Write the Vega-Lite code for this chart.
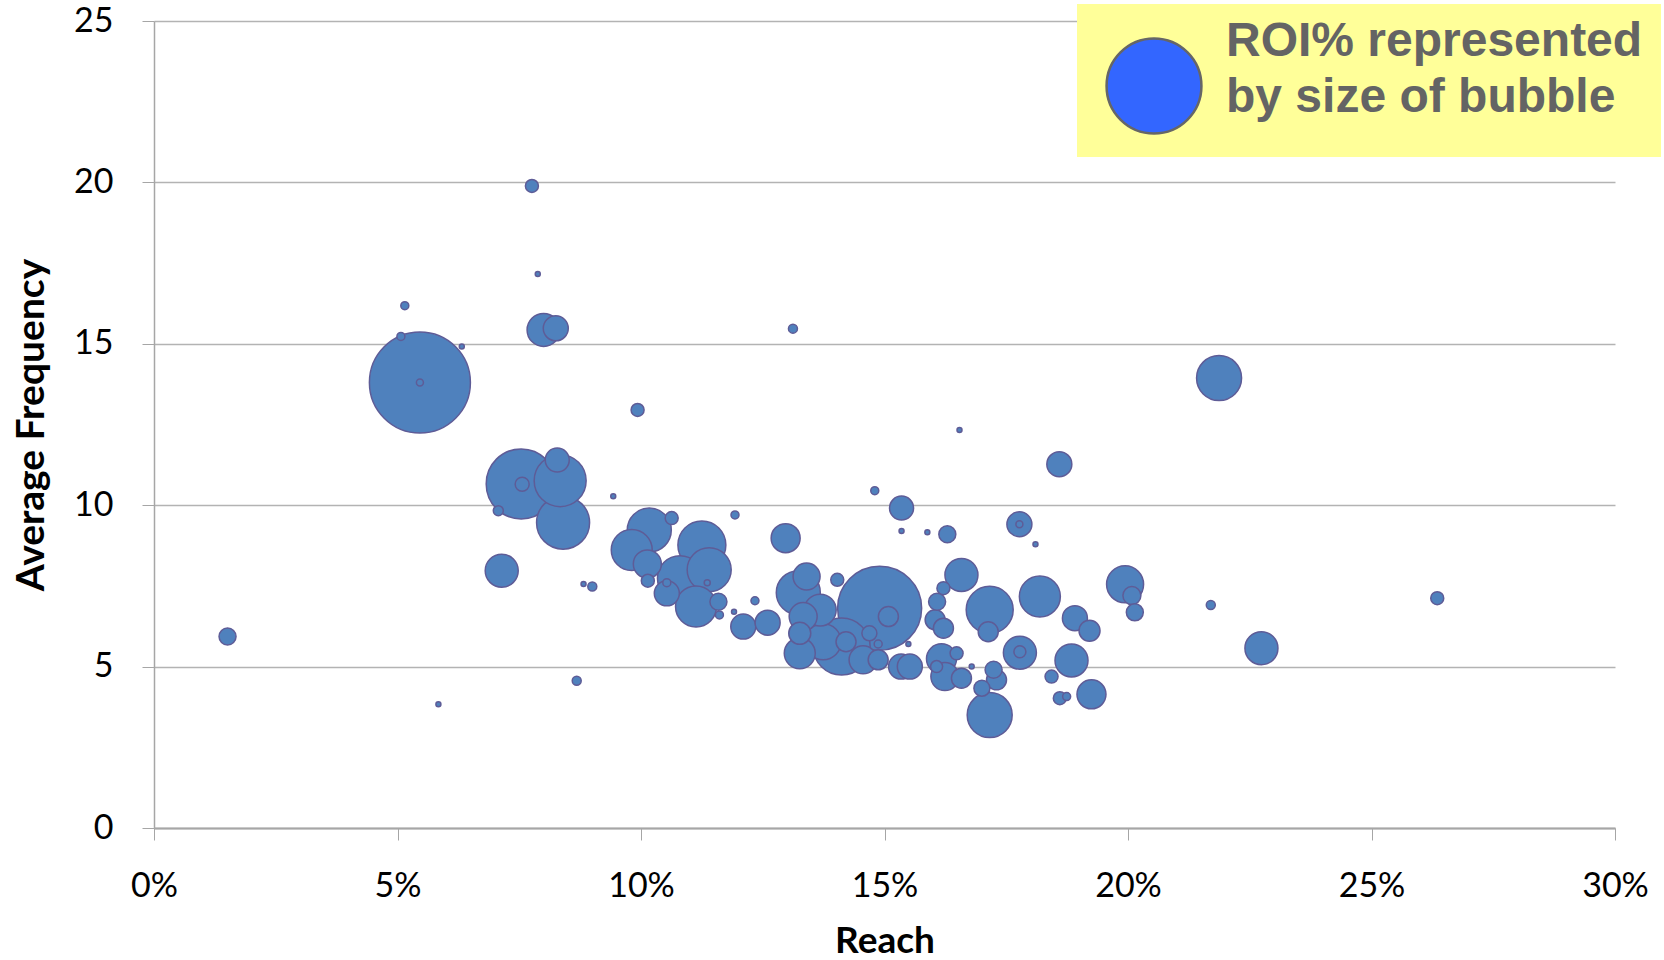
{
  "$schema": "https://vega.github.io/schema/vega-lite/v6.json",
  "width": 1461,
  "height": 807,
  "autosize": {"type": "none"},
  "padding": {"left": 154, "top": 21, "right": 49, "bottom": 132},
  "background": "white",
  "config": {"view": {"stroke": null}, "font": "Lato"},
  "data": {
    "values": [
      {"reach": 0.0546, "freq": 13.80, "roi": 102},
      {"reach": 0.1490, "freq": 6.81, "roi": 70.6},
      {"reach": 0.0754, "freq": 10.66, "roi": 49},
      {"reach": 0.1412, "freq": 5.62, "roi": 32.5},
      {"reach": 0.0840, "freq": 9.46, "roi": 28.1},
      {"reach": 0.0834, "freq": 10.76, "roi": 27},
      {"reach": 0.1125, "freq": 8.77, "roi": 23},
      {"reach": 0.1716, "freq": 6.76, "roi": 22.1},
      {"reach": 0.1080, "freq": 7.74, "roi": 20.25},
      {"reach": 0.1716, "freq": 3.50, "roi": 20.25},
      {"reach": 0.2187, "freq": 13.94, "roi": 20.25},
      {"reach": 0.1140, "freq": 8.00, "roi": 19.4},
      {"reach": 0.1017, "freq": 9.23, "roi": 19.4},
      {"reach": 0.1323, "freq": 7.29, "roi": 19.4},
      {"reach": 0.1113, "freq": 6.86, "roi": 16.8},
      {"reach": 0.0981, "freq": 8.61, "roi": 16.8},
      {"reach": 0.1819, "freq": 7.17, "roi": 16.8},
      {"reach": 0.1994, "freq": 7.55, "roi": 13.7},
      {"reach": 0.1374, "freq": 5.77, "roi": 13.0},
      {"reach": 0.0800, "freq": 15.43, "roi": 10.9},
      {"reach": 0.0714, "freq": 7.97, "roi": 10.9},
      {"reach": 0.1658, "freq": 7.84, "roi": 10.9},
      {"reach": 0.1778, "freq": 5.43, "roi": 10.9},
      {"reach": 0.1884, "freq": 5.19, "roi": 10.9},
      {"reach": 0.2274, "freq": 5.57, "roi": 10.9},
      {"reach": 0.1368, "freq": 6.75, "roi": 10.2},
      {"reach": 0.1326, "freq": 5.41, "roi": 9.61},
      {"reach": 0.1617, "freq": 5.24, "roi": 9.0},
      {"reach": 0.1297, "freq": 8.98, "roi": 8.41},
      {"reach": 0.1925, "freq": 4.14, "roi": 8.41},
      {"reach": 0.1456, "freq": 5.21, "roi": 7.84},
      {"reach": 0.1013, "freq": 8.18, "roi": 7.84},
      {"reach": 0.1624, "freq": 4.69, "roi": 7.84},
      {"reach": 0.1333, "freq": 6.55, "roi": 7.84},
      {"reach": 0.1340, "freq": 7.79, "roi": 7.29},
      {"reach": 0.1053, "freq": 7.27, "roi": 6.25},
      {"reach": 0.0825, "freq": 15.48, "roi": 6.25},
      {"reach": 0.1210, "freq": 6.24, "roi": 6.25},
      {"reach": 0.1260, "freq": 6.36, "roi": 6.25},
      {"reach": 0.1859, "freq": 11.27, "roi": 6.25},
      {"reach": 0.1777, "freq": 9.41, "roi": 6.25},
      {"reach": 0.1891, "freq": 6.50, "roi": 6.25},
      {"reach": 0.1534, "freq": 5.00, "roi": 6.25},
      {"reach": 0.1552, "freq": 5.00, "roi": 6.25},
      {"reach": 0.0828, "freq": 11.40, "roi": 5.76},
      {"reach": 0.1535, "freq": 9.91, "roi": 5.76},
      {"reach": 0.1326, "freq": 6.03, "roi": 4.84},
      {"reach": 0.1921, "freq": 6.11, "roi": 4.41},
      {"reach": 0.1713, "freq": 6.08, "roi": 4.0},
      {"reach": 0.1421, "freq": 5.77, "roi": 4.0},
      {"reach": 0.1487, "freq": 5.21, "roi": 4.0},
      {"reach": 0.1508, "freq": 6.55, "roi": 4.0},
      {"reach": 0.1604, "freq": 6.45, "roi": 4.0},
      {"reach": 0.1621, "freq": 6.19, "roi": 4.0},
      {"reach": 0.1658, "freq": 4.64, "roi": 4.0},
      {"reach": 0.1730, "freq": 4.59, "roi": 4.0},
      {"reach": 0.2008, "freq": 7.20, "roi": 3.24},
      {"reach": 0.1629, "freq": 9.10, "roi": 2.89},
      {"reach": 0.1608, "freq": 7.01, "roi": 2.89},
      {"reach": 0.1724, "freq": 4.90, "roi": 2.89},
      {"reach": 0.2014, "freq": 6.68, "roi": 2.89},
      {"reach": 0.0151, "freq": 5.93, "roi": 2.89},
      {"reach": 0.1159, "freq": 7.01, "roi": 2.89},
      {"reach": 0.1700, "freq": 4.33, "roi": 2.56},
      {"reach": 0.1469, "freq": 6.03, "roi": 2.25},
      {"reach": 0.0756, "freq": 10.65, "roi": 1.96},
      {"reach": 0.0776, "freq": 19.89, "roi": 1.69},
      {"reach": 0.0993, "freq": 12.95, "roi": 1.69},
      {"reach": 0.1063, "freq": 9.60, "roi": 1.69},
      {"reach": 0.1014, "freq": 7.66, "roi": 1.69},
      {"reach": 0.1403, "freq": 7.69, "roi": 1.69},
      {"reach": 0.1621, "freq": 7.43, "roi": 1.69},
      {"reach": 0.1648, "freq": 5.41, "roi": 1.69},
      {"reach": 0.1843, "freq": 4.69, "roi": 1.69},
      {"reach": 0.1860, "freq": 4.02, "roi": 1.69},
      {"reach": 0.2635, "freq": 7.12, "roi": 1.69},
      {"reach": 0.1778, "freq": 5.46, "roi": 1.44},
      {"reach": 0.1607, "freq": 5.00, "roi": 1.44},
      {"reach": 0.0707, "freq": 9.83, "roi": 1.0},
      {"reach": 0.1312, "freq": 15.47, "roi": 0.81},
      {"reach": 0.0900, "freq": 7.48, "roi": 0.81},
      {"reach": 0.0868, "freq": 4.56, "roi": 0.81},
      {"reach": 0.2170, "freq": 6.91, "roi": 0.81},
      {"reach": 0.1874, "freq": 4.07, "roi": 0.64},
      {"reach": 0.1234, "freq": 7.04, "roi": 0.64},
      {"reach": 0.1193, "freq": 9.70, "roi": 0.64},
      {"reach": 0.1161, "freq": 6.60, "roi": 0.64},
      {"reach": 0.0515, "freq": 16.18, "roi": 0.64},
      {"reach": 0.0507, "freq": 15.23, "roi": 0.64},
      {"reach": 0.1480, "freq": 10.45, "roi": 0.64},
      {"reach": 0.1053, "freq": 7.60, "roi": 0.64},
      {"reach": 0.1487, "freq": 5.70, "roi": 0.64},
      {"reach": 0.1777, "freq": 9.41, "roi": 0.49},
      {"reach": 0.0546, "freq": 13.80, "roi": 0.49},
      {"reach": 0.1136, "freq": 7.60, "roi": 0.36},
      {"reach": 0.0788, "freq": 17.16, "roi": 0.25},
      {"reach": 0.0632, "freq": 14.92, "roi": 0.25},
      {"reach": 0.1654, "freq": 12.33, "roi": 0.25},
      {"reach": 0.0943, "freq": 10.28, "roi": 0.25},
      {"reach": 0.0882, "freq": 7.56, "roi": 0.25},
      {"reach": 0.0584, "freq": 3.83, "roi": 0.25},
      {"reach": 0.1191, "freq": 6.70, "roi": 0.25},
      {"reach": 0.1535, "freq": 9.20, "roi": 0.25},
      {"reach": 0.1588, "freq": 9.16, "roi": 0.25},
      {"reach": 0.1810, "freq": 8.79, "roi": 0.25},
      {"reach": 0.1549, "freq": 5.70, "roi": 0.25},
      {"reach": 0.1679, "freq": 5.00, "roi": 0.25}
    ]
  },
  "mark": {
    "type": "point",
    "shape": "circle",
    "filled": true,
    "fill": "#4F81BD",
    "stroke": "#5E5C97",
    "strokeWidth": 1.5,
    "opacity": 1,
    "fillOpacity": 1,
    "strokeOpacity": 1
  },
  "encoding": {
    "x": {
      "field": "reach",
      "type": "quantitative",
      "scale": {"domain": [0, 0.3], "nice": false, "zero": true},
      "axis": {
        "title": "Reach",
        "format": ".0%",
        "values": [0, 0.05, 0.1, 0.15, 0.2, 0.25, 0.3],
        "grid": false,
        "domainColor": "#a6a6a6",
        "domainWidth": 2,
        "tickColor": "#a6a6a6",
        "tickWidth": 1,
        "tickSize": 12,
        "labelFont": "Lato",
        "labelFontSize": 34,
        "labelColor": "#000000",
        "labelPadding": 29,
        "labelFlush": false,
        "labelOverlap": false,
        "titleFont": "Lato",
        "titleFontSize": 37,
        "titleFontWeight": "bold",
        "titleColor": "#000000",
        "titlePadding": 20
      }
    },
    "y": {
      "field": "freq",
      "type": "quantitative",
      "scale": {"domain": [0, 25], "nice": false, "zero": true},
      "axis": {
        "title": "Average Frequency",
        "values": [0, 5, 10, 15, 20, 25],
        "grid": true,
        "gridColor": "#b3b3b3",
        "gridWidth": 1.5,
        "domainColor": "#a6a6a6",
        "domainWidth": 1.5,
        "tickColor": "#a6a6a6",
        "tickWidth": 1,
        "tickSize": 12,
        "labelFont": "Lato",
        "labelFontSize": 34,
        "labelColor": "#000000",
        "labelPadding": 29,
        "labelFlush": false,
        "labelOverlap": false,
        "titleFont": "Lato",
        "titleFontSize": 39,
        "titleFontWeight": "bold",
        "titleColor": "#000000",
        "titlePadding": 22
      }
    },
    "size": {
      "field": "roi",
      "type": "quantitative",
      "scale": {"domain": [0, 110], "range": [0, 11000]},
      "legend": {
        "orient": "none",
        "legendX": 923,
        "legendY": -17,
        "values": [90],
        "title": " ",
        "titleFontSize": 6,
        "titlePadding": 9,
        "fillColor": "#FFFF99",
        "padding": 18,
        "symbolOffset": 10,
        "labelExpr": "['ROI% represented', 'by size of bubble']",
        "labelFont": "Liberation Sans",
        "labelFontSize": 48,
        "labelFontWeight": "bold",
        "labelColor": "#646464",
        "labelLimit": 1000,
        "labelOffset": 23,
        "symbolFillColor": "#3366FF",
        "symbolStrokeColor": "#666666",
        "symbolStrokeWidth": 2.5,
        "symbolOpacity": 1,
        "encoding": {
          "symbols": {
            "fill": {"value": "#3366FF"},
            "stroke": {"value": "#666666"},
            "strokeWidth": {"value": 2.5},
            "opacity": {"value": 1},
            "fillOpacity": {"value": 1}
          },
          "labels": {
            "lineHeight": {"value": 56},
            "dy": {"value": -44}
          }
        }
      }
    },
    "order": {"field": "roi", "sort": "descending"}
  }
}
